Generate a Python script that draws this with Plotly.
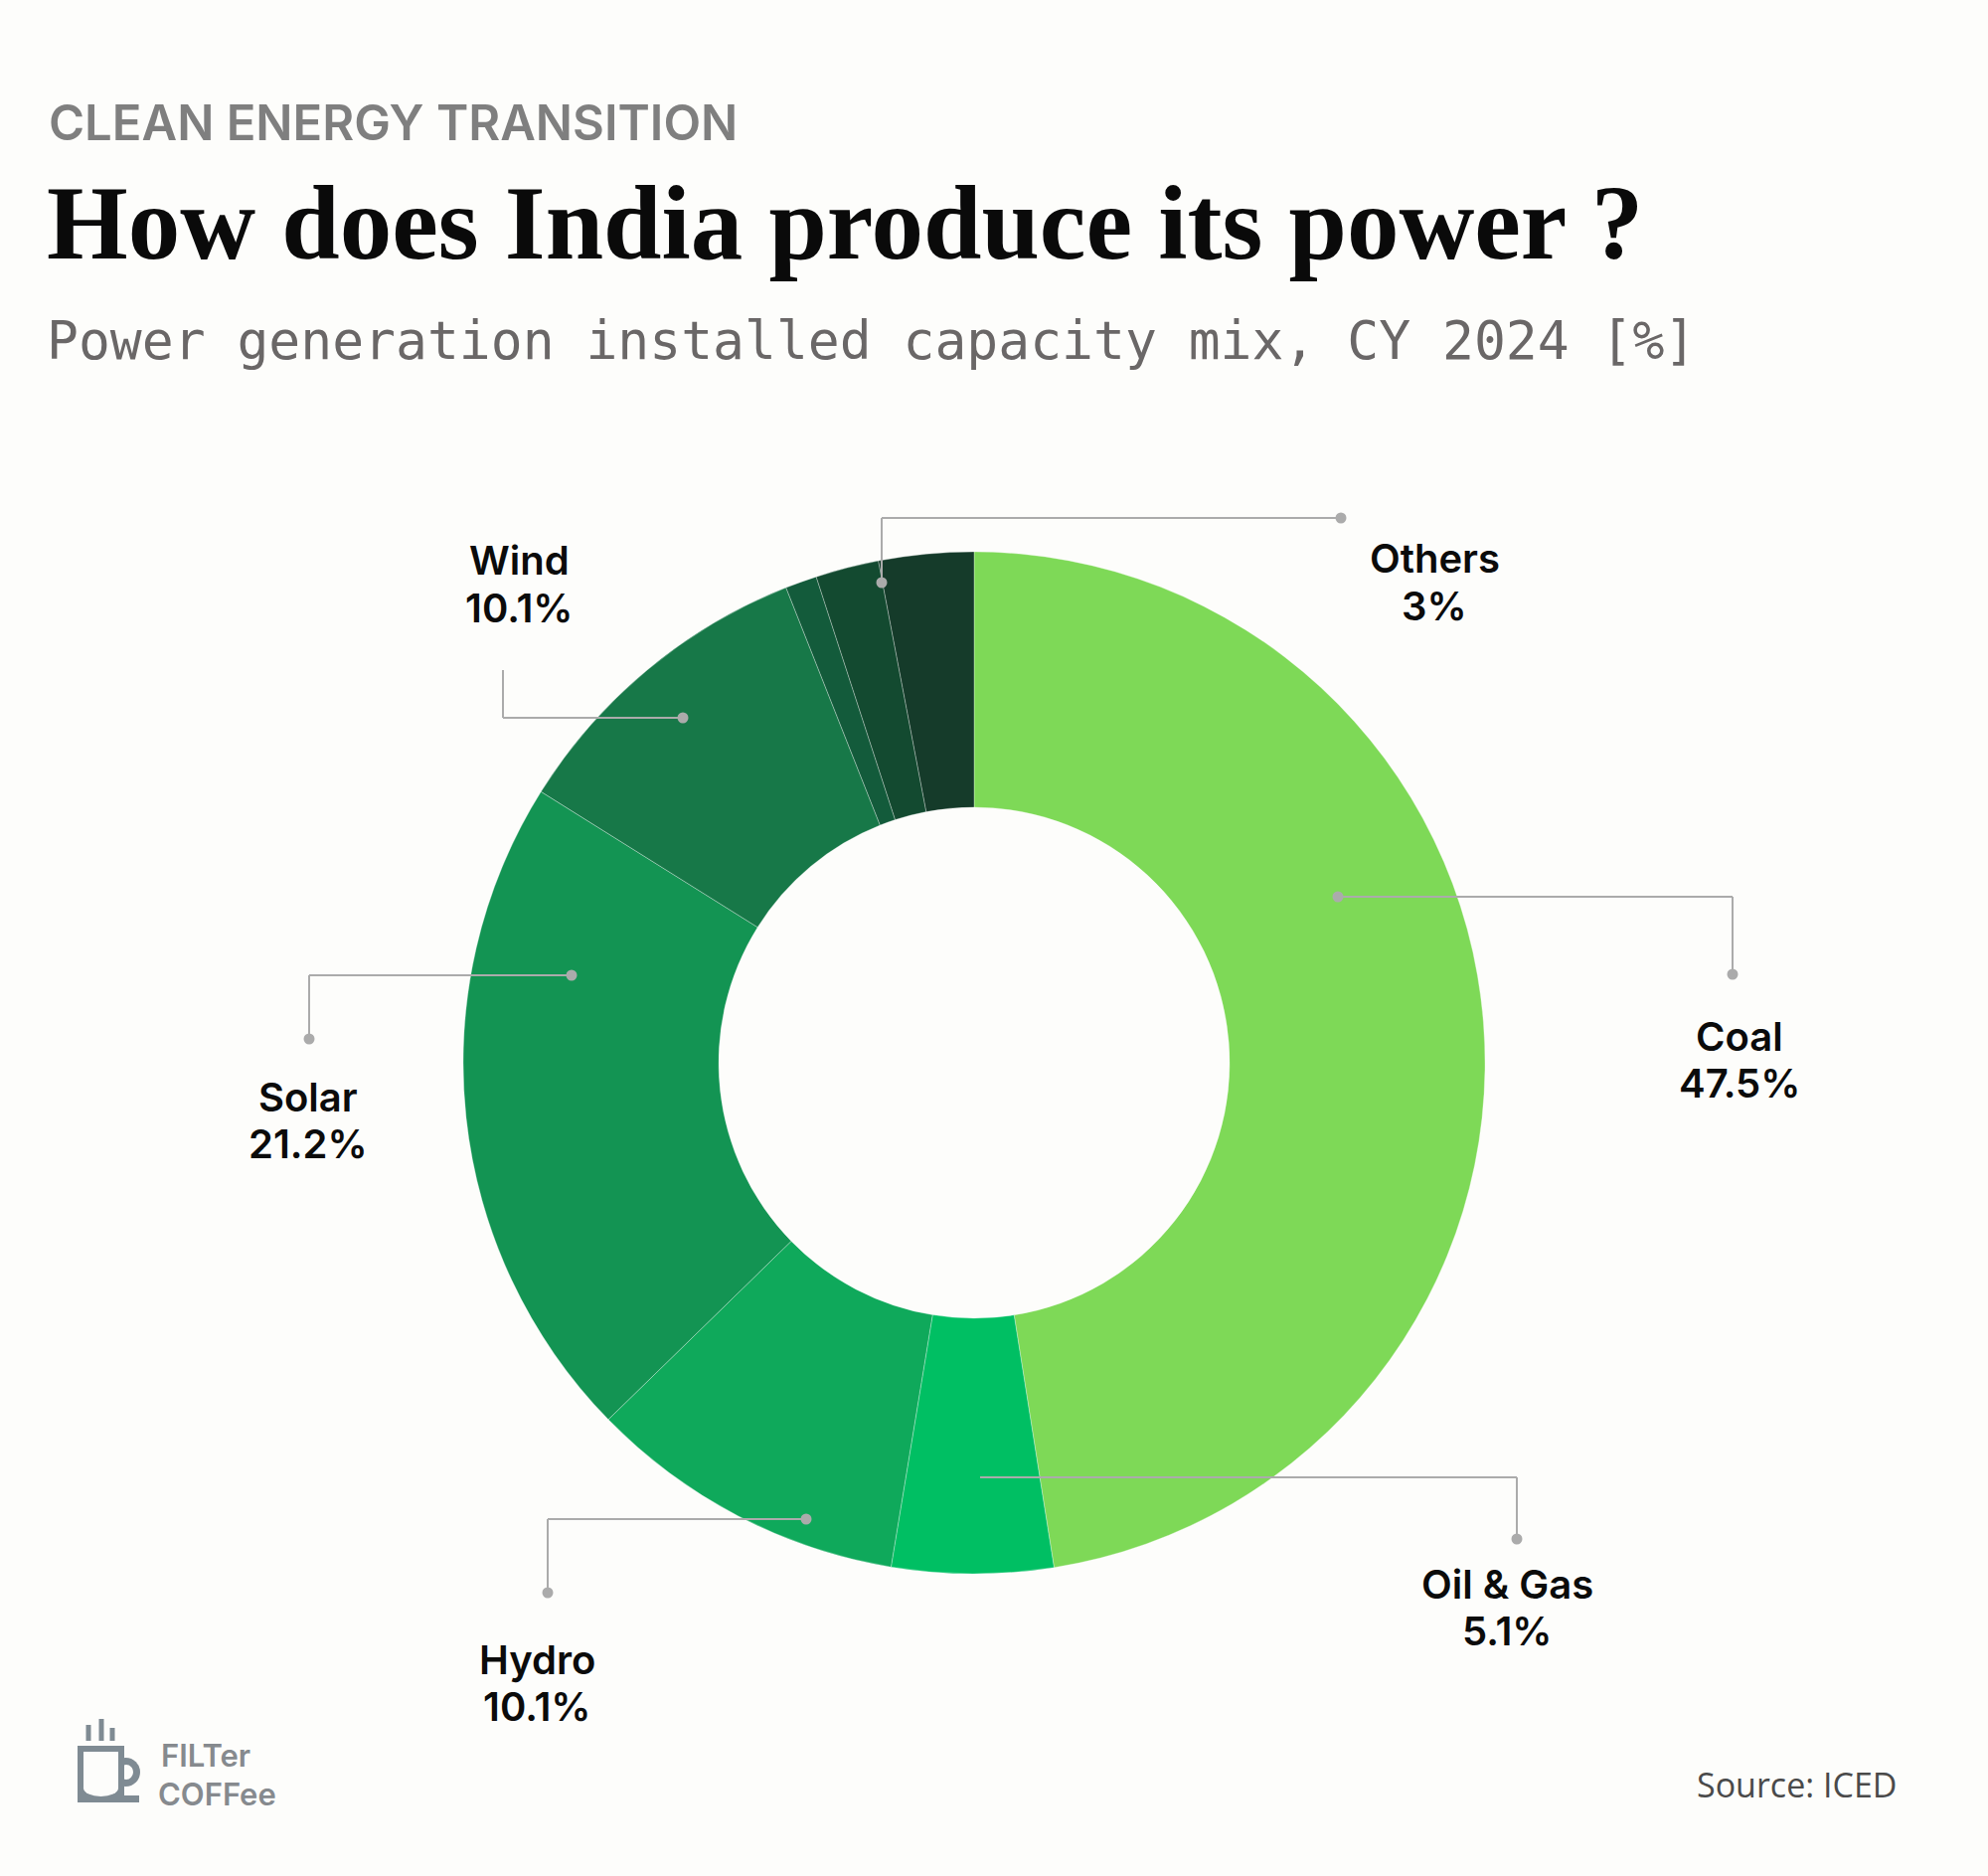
"""
    India power generation installed capacity mix, CY 2024 - donut chart.
"""
import plotly.graph_objects as go

W, H = 2000, 1887
BG = "#FDFDFB"

# data (clockwise from 12 o'clock)
SOURCES = ["Coal", "Oil & Gas", "Hydro", "Solar", "Wind", "Small Hydro", "Nuclear", "Others"]
SHARES = [47.5, 5.1, 10.1, 21.2, 10.1, 1.0, 2.0, 3.0]
COLORS = ["#7ED957", "#00BF63", "#0FA95B", "#139453", "#177848", "#135B3B", "#134A30", "#153B2A"]
LABELLED = ["Coal", "Oil & Gas", "Hydro", "Solar", "Wind", "Others"]

LINE_GREY = "#ABABAB"


def px(x):
    return x / W


def py(y):
    return 1 - y / H


def text_ann(x, baseline, text, size, family, color, weight=400, xanchor="left"):
    # place a single text line by its baseline (pixels from top)
    return dict(
        x=px(x), y=py(baseline - 0.35 * size), xref="paper", yref="paper",
        text=text, showarrow=False, xanchor=xanchor, yanchor="middle",
        font=dict(size=size, family=family, color=color, weight=weight),
    )


def fmt_pct(v):
    return f"{v:g}%"


# leader layouts: ring point -> elbow -> end point, and label anchor (px)
LEADERS = {
    "Coal":      dict(path=[(1346, 902), (1743, 902), (1743, 980)], dots=(True, True), label=(1750, 1056)),
    "Oil & Gas": dict(path=[(986, 1486), (1526, 1486), (1526, 1548)], dots=(False, True), label=(1516, 1607)),
    "Hydro":     dict(path=[(811, 1528), (551, 1528), (551, 1602)], dots=(True, True), label=(540, 1683)),
    "Solar":     dict(path=[(575, 981), (311, 981), (311, 1045)], dots=(True, True), label=(310, 1117)),
    "Wind":      dict(path=[(687, 722), (506, 722), (506, 674)], dots=(True, False), label=(522, 578)),
    "Others":    dict(path=[(887, 586), (887, 521), (1349, 521)], dots=(True, True), label=(1443, 576)),
}

cx, cy, R = 980, 1069, 514

fig = go.Figure(go.Pie(
    labels=SOURCES,
    values=SHARES,
    hole=0.5,
    sort=False,
    direction="clockwise",
    rotation=0,
    marker=dict(colors=COLORS, line=dict(color="rgba(255,255,255,0.3)", width=1)),
    textinfo="none",
    hovertemplate="%{label}: %{value}%<extra></extra>",
    domain=dict(x=[px(cx - R), px(cx + R)], y=[py(cy + R), py(cy - R)]),
    showlegend=False,
))

shapes = []
annotations = []

for name in LABELLED:
    spec = LEADERS[name]
    pts = spec["path"]
    for (x0, y0), (x1, y1) in zip(pts[:-1], pts[1:]):
        shapes.append(dict(type="line", xref="paper", yref="paper",
                           x0=px(x0), y0=py(y0), x1=px(x1), y1=py(y1),
                           line=dict(color=LINE_GREY, width=2)))
    for (x, y), show in zip([pts[0], pts[-1]], spec["dots"]):
        if show:
            shapes.append(dict(type="circle", xref="paper", yref="paper",
                               x0=px(x - 5.5), x1=px(x + 5.5), y0=py(y + 5.5), y1=py(y - 5.5),
                               fillcolor=LINE_GREY, line=dict(width=0)))
    lx, lb = spec["label"]
    v = SHARES[SOURCES.index(name)]
    annotations.append(text_ann(lx, lb, name, 40, "Inter", "#0B0B0B", 600, "center"))
    annotations.append(text_ann(lx, lb + 47, fmt_pct(v), 40, "Inter", "#0B0B0B", 600, "center"))

# headings
annotations.append(text_ann(47, 141, "CLEAN ENERGY TRANSITION", 49, "Inter", "#7F7F7F", 600))
annotations.append(text_ann(45, 261, "How does India produce its power ?", 105,
                            "Liberation Serif", "#0A0A0A", 700))
annotations.append(text_ann(45, 361, "Power generation installed capacity mix, CY 2024 [%]", 53,
                            "DejaVu Sans Mono", "#6A6767", 400))
annotations.append(text_ann(1910, 1807, "Source: ICED", 34, "Open Sans", "#4A4A4A", 400, "right"))

# filter coffee logo
LOGO = "#7F8B93"
annotations.append(text_ann(160, 1776, "FILTer", 31, "Inter", "#868A8E", 600))
annotations.append(text_ann(157, 1815, "COFFee", 31, "Inter", "#868A8E", 600))


def rect(x0, y0, x1, y1, color):
    return dict(type="rect", xref="paper", yref="paper",
                x0=px(x0), x1=px(x1), y0=py(y1), y1=py(y0),
                fillcolor=color, line=dict(width=0), layer="above")


def circ(x0, y0, x1, y1, color):
    return dict(type="circle", xref="paper", yref="paper",
                x0=px(x0), x1=px(x1), y0=py(y1), y1=py(y0),
                fillcolor=color, line=dict(width=0), layer="above")


for sx, top in [(89, 1735), (102, 1729), (113, 1738)]:
    shapes.append(dict(type="line", xref="paper", yref="paper",
                       x0=px(sx), x1=px(sx), y0=py(top), y1=py(1751),
                       line=dict(color=LOGO, width=5)))
shapes += [
    circ(112, 1768, 141, 1797, LOGO),
    circ(120, 1775, 134, 1790, BG),
    rect(78, 1756, 125, 1813, LOGO),
    rect(125, 1806, 140, 1813, LOGO),
    rect(84, 1762, 119, 1798, BG),
    circ(84, 1790, 119, 1807, BG),
]

fig.update_layout(
    width=W, height=H,
    margin=dict(l=0, r=0, t=0, b=0),
    paper_bgcolor=BG,
    plot_bgcolor=BG,
    shapes=shapes,
    annotations=annotations,
)

# drop the default page margin so the figure sits at the window corner
fig.write_html(
    "out.html",
    config={"displayModeBar": False},
    post_script=f"document.body.style.margin='0';document.body.style.background='{BG}';",
)
